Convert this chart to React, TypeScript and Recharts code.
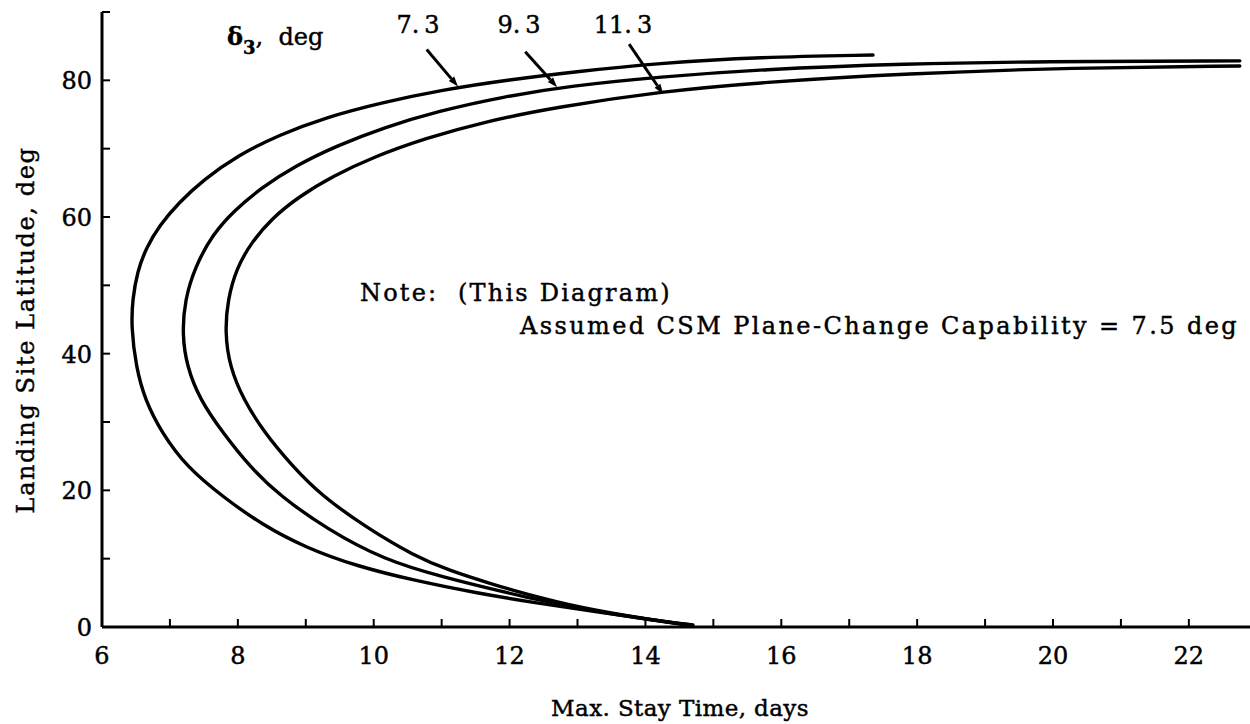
import React from 'react'
import { LineChart, Line, XAxis, YAxis, ReferenceLine } from 'recharts'

// axis ticks
const dayTicks = [6, 7, 8, 9, 10, 11, 12, 13, 14, 15, 16, 17, 18, 19, 20, 21, 22]
const latTicks = [0, 10, 20, 30, 40, 50, 60, 70, 80, 90]

// delta3 = 7.3 deg (outer curve), read bottom -> top
const days73 = [14.7, 14.12, 13.3, 12.4, 11.5, 10.6, 9.75, 9.0, 8.35, 7.78, 7.25, 6.88, 6.63, 6.5, 6.43, 6.45, 6.52, 6.65, 6.85, 7.12, 7.5, 8.0, 8.6, 9.3, 10.1, 11.0, 12.0, 13.0, 14.17, 15.68, 17.35]
const lat73 = [0.3, 1.0, 2.2, 3.5, 5.0, 6.8, 8.9, 11.6, 15.0, 19.05, 23.4, 28.4, 33.3, 38.1, 44.0, 48.0, 52.0, 55.5, 58.8, 62.0, 65.5, 69.0, 72.0, 74.6, 76.7, 78.6, 80.1, 81.3, 82.5, 83.4, 83.7]

// delta3 = 9.3 deg
const days93 = [14.68, 14.12, 13.03, 12.18, 11.72, 11.06, 10.15, 9.3, 8.62, 8.18, 7.78, 7.44, 7.25, 7.18, 7.22, 7.37, 7.63, 7.95, 8.35, 8.85, 9.45, 10.15, 10.95, 11.9, 12.9, 14.21, 15.68, 17.85, 19.8, 22.75]
const lat93 = [0.3, 0.95, 2.7, 4.5, 5.6, 7.2, 9.8, 14.4, 19.2, 23.4, 28.4, 33.3, 38.1, 42.8, 47.9, 52.7, 57.5, 61.0, 64.3, 67.5, 70.4, 73.1, 75.5, 77.6, 79.2, 80.5, 81.6, 82.45, 82.75, 82.85]

// delta3 = 11.3 deg (inner curve)
const days113 = [14.68, 14.12, 13.03, 12.18, 11.8, 11.1, 10.6, 9.9, 9.22, 8.78, 8.38, 8.08, 7.88, 7.81, 7.85, 7.98, 8.2, 8.5, 8.9, 9.4, 10.0, 10.75, 11.65, 12.7, 14.26, 15.68, 17.85, 20.29, 22.75]
const lat113 = [0.2, 1.0, 2.8, 5.0, 6.1, 8.3, 10.4, 14.5, 19.3, 23.8, 28.6, 33.3, 38.1, 43.1, 47.9, 52.5, 56.3, 59.8, 63.0, 66.0, 68.8, 71.5, 74.0, 76.1, 78.4, 79.7, 81.0, 81.85, 82.1]

const toPoints = (days: number[], lat: number[]) => days.map((d, i) => ({ days: d, lat: lat[i] }))

const curves = [
  { name: '7.3', data: toPoints(days73, lat73) },
  { name: '9.3', data: toPoints(days93, lat93) },
  { name: '11.3', data: toPoints(days113, lat113) },
]

// leader arrows from the curve labels to each curve (days, lat)
const leaders = [
  { label: '7.3', from: { x: 10.78, y: 84.5 }, to: { x: 11.24, y: 79.1 } },
  { label: '9.3', from: { x: 12.23, y: 84.2 }, to: { x: 12.7, y: 79.0 } },
  { label: '11.3', from: { x: 13.76, y: 85.3 }, to: { x: 14.26, y: 78.0 } },
]

const FONT = '"DejaVu Serif", "Liberation Serif", serif'
const INK = { fill: '#000', stroke: '#000', strokeWidth: 0.45 }

function DayTick({ x, y, payload }: any) {
  const v = payload.value
  return (
    <g>
      <line x1={x} x2={x} y1={y} y2={y - 8} stroke="#000" strokeWidth={2} />
      {v % 2 === 0 && (
        <text x={x} y={y + 37} textAnchor="middle" fontFamily={FONT} fontSize={24} {...INK}>
          {v}
        </text>
      )}
    </g>
  )
}

function LatTick({ x, y, payload }: any) {
  const v = payload.value
  return (
    <g>
      <line x1={x} x2={x + 8} y1={y} y2={y} stroke="#000" strokeWidth={2} />
      {v % 20 === 0 && v < 90 && (
        <text x={x - 10} y={y + 9} textAnchor="end" fontFamily={FONT} fontSize={24} {...INK}>
          {v}
        </text>
      )}
    </g>
  )
}

function Arrow(props: any) {
  const { x1, y1, x2, y2 } = props
  const ang = Math.atan2(y2 - y1, x2 - x1)
  const len = 10
  const w = 3.5
  const bx = x2 - len * Math.cos(ang)
  const by = y2 - len * Math.sin(ang)
  const px = -Math.sin(ang) * w
  const py = Math.cos(ang) * w
  return (
    <g>
      <line x1={x1} y1={y1} x2={bx} y2={by} stroke="#000" strokeWidth={3} />
      <polygon points={`${x2},${y2} ${bx + px},${by + py} ${bx - px},${by - py}`} fill="#000" />
    </g>
  )
}

// curve value label drawn like the typed "7. 3" of the original
function ValueLabel({ x, text }: { x: number; text: string }) {
  const dot = text.indexOf('.')
  return (
    <text x={x} y={33} fontSize={24} textAnchor="middle">
      <tspan>{text.slice(0, dot + 1)}</tspan>
      <tspan dx={5}>{text.slice(dot + 1)}</tspan>
    </text>
  )
}

export default function App() {
  return (
    <div style={{ position: 'relative', width: 1250, height: 724, background: '#fff' }}>
      <style>{'body{margin:0}'}</style>
      <LineChart width={1250} height={724} margin={{ top: 12, right: 0, bottom: 0, left: 0 }}>
        <XAxis
          type="number"
          dataKey="days"
          domain={[6, 22.9]}
          ticks={dayTicks}
          interval={0}
          allowDataOverflow
          height={97}
          tickSize={0}
          tickMargin={0}
          tickLine={false}
          axisLine={{ stroke: '#000', strokeWidth: 3 }}
          tick={<DayTick />}
        />
        <YAxis
          type="number"
          dataKey="lat"
          domain={[0, 90]}
          ticks={latTicks}
          interval={0}
          allowDataOverflow
          width={102}
          tickSize={0}
          tickMargin={0}
          tickLine={false}
          axisLine={{ stroke: '#000', strokeWidth: 3 }}
          tick={<LatTick />}
        />
        {curves.map((c) => (
          <Line
            key={c.name}
            data={c.data}
            dataKey="lat"
            type="basis"
            stroke="#000"
            strokeWidth={3.4}
            strokeLinecap="round"
            dot={false}
            activeDot={false}
            isAnimationActive={false}
          />
        ))}
        {leaders.map((l) => (
          <ReferenceLine
            key={l.label}
            segment={[l.from, l.to]}
            stroke="#000"
            strokeWidth={3}
            ifOverflow="visible"
            shape={Arrow}
          />
        ))}
      </LineChart>
      <svg
        width={1250}
        height={724}
        style={{ position: 'absolute', left: 0, top: 0, pointerEvents: 'none' }}
        fontFamily={FONT}
        {...INK}
      >
        <text x={227} y={45} fontSize={24}>
          <tspan fontWeight="bold">δ</tspan>
          <tspan fontSize={18} dy={9} fontWeight="bold">3</tspan>
          <tspan dy={-9}>,{'\u00a0\u00a0'}deg</tspan>
        </text>
        <ValueLabel x={418} text="7.3" />
        <ValueLabel x={519} text="9.3" />
        <ValueLabel x={623} text="11.3" />
        <text x={360} y={301} fontSize={24} letterSpacing={2.2}>
          {'Note:\u00a0\u00a0(This Diagram)'}
        </text>
        <text x={520} y={334} fontSize={24} letterSpacing={2.4}>
          Assumed CSM Plane-Change Capability = 7.5 deg
        </text>
        <text x={680} y={716} fontSize={23} letterSpacing={0.4} textAnchor="middle">
          Max. Stay Time, days
        </text>
        <text
          x={0}
          y={0}
          fontSize={24}
          letterSpacing={1.6}
          textAnchor="middle"
          transform="translate(34 330) rotate(-90)"
        >
          Landing Site Latitude, deg
        </text>
      </svg>
    </div>
  )
}
